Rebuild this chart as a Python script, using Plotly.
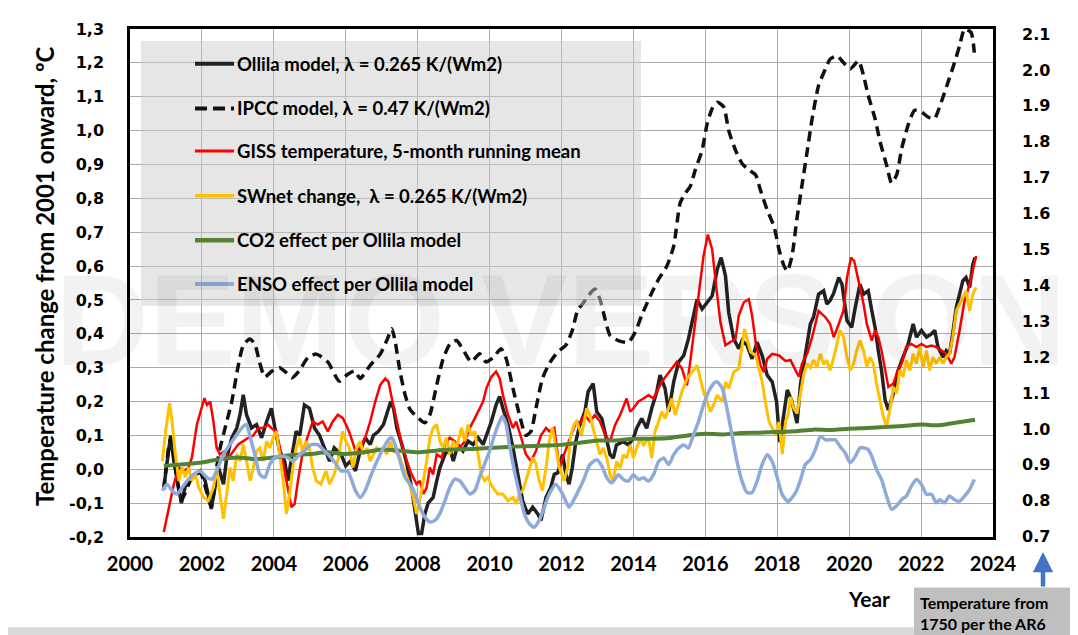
import plotly.graph_objects as go

# ---------------- data ----------------
ollila_x = [2000.94, 2001.03, 2001.13, 2001.22, 2001.36, 2001.43, 2001.54, 2001.68, 2001.82, 2001.95,
            2002.09, 2002.26, 2002.36, 2002.46, 2002.6, 2002.69, 2002.83, 2002.97, 2003.06, 2003.15,
            2003.24, 2003.38, 2003.52, 2003.66, 2003.8, 2003.93, 2004.03, 2004.16, 2004.3, 2004.39,
            2004.48, 2004.62, 2004.72, 2004.85, 2004.99, 2005.13, 2005.27, 2005.4, 2005.55, 2005.68,
            2005.87, 2006.0, 2006.13, 2006.27, 2006.4, 2006.54, 2006.68, 2006.77, 2006.91, 2007.05,
            2007.19, 2007.25, 2007.33, 2007.42, 2007.56, 2007.7, 2007.83, 2007.93, 2008.02, 2008.11,
            2008.2, 2008.29, 2008.43, 2008.53, 2008.62, 2008.76, 2008.89, 2008.99, 2009.12, 2009.26,
            2009.4, 2009.54, 2009.68, 2009.82, 2009.91, 2010.05, 2010.18, 2010.28, 2010.37, 2010.51,
            2010.65, 2010.78, 2010.92, 2011.06, 2011.2, 2011.34, 2011.43, 2011.57, 2011.7, 2011.8,
            2011.9, 2012.03, 2012.12, 2012.21, 2012.3, 2012.4, 2012.51, 2012.65, 2012.74, 2012.88,
            2012.98, 2013.12, 2013.21, 2013.35, 2013.44, 2013.53, 2013.72, 2013.86, 2014.0, 2014.09,
            2014.23, 2014.37, 2014.51, 2014.65, 2014.74, 2014.88, 2014.98, 2015.12, 2015.26, 2015.4,
            2015.53, 2015.63, 2015.77, 2015.91, 2016.05, 2016.19, 2016.33, 2016.44, 2016.56, 2016.65,
            2016.79, 2016.93, 2017.02, 2017.16, 2017.3, 2017.44, 2017.58, 2017.72, 2017.86, 2017.98,
            2018.07, 2018.16, 2018.28, 2018.41, 2018.55, 2018.65, 2018.78, 2018.92, 2019.01, 2019.15,
            2019.29, 2019.38, 2019.47, 2019.57, 2019.71, 2019.8, 2019.94, 2020.07, 2020.17, 2020.3,
            2020.4, 2020.53, 2020.63, 2020.72, 2020.81, 2020.9, 2021.0, 2021.09, 2021.23, 2021.36,
            2021.5, 2021.64, 2021.78, 2021.87, 2022.01, 2022.15, 2022.29, 2022.38, 2022.47, 2022.61,
            2022.7, 2022.79, 2022.88, 2022.98, 2023.07, 2023.16, 2023.25, 2023.35, 2023.44, 2023.5]
ollila_y = [-0.054, 0.024, 0.10, 0.024, -0.054, -0.10, -0.05, -0.034, -0.015, -0.005,
            -0.034, -0.117, -0.06, 0.005, -0.044, 0.034, 0.093, 0.122, 0.161, 0.22,
            0.161, 0.122, 0.132, 0.093, 0.141, 0.18, 0.122, 0.054, 0.024, -0.034,
            0.024, 0.112, 0.10, 0.19, 0.18, 0.122, 0.10, 0.063, 0.024, 0.063,
            0.044, 0.01, 0.024, -0.005, 0.054, 0.093, 0.073, 0.10, 0.112, 0.132,
            0.18, 0.20, 0.18, 0.122, 0.073, 0.015, -0.054, -0.132, -0.19, -0.19,
            -0.132, -0.10, -0.083, -0.034, 0.005, 0.044, 0.063, 0.024, 0.073, 0.054,
            0.083, 0.073, 0.093, 0.073, 0.10, 0.141, 0.19, 0.215, 0.18, 0.132,
            0.063, -0.015, -0.093, -0.132, -0.112, -0.132, -0.151, -0.083, -0.054, -0.015,
            -0.01, 0.044, -0.015, -0.044, 0.005, 0.083, 0.131, 0.17, 0.229, 0.253,
            0.17, 0.15, 0.111, 0.043, 0.033, 0.072, 0.082, 0.072, 0.092, 0.121,
            0.15, 0.121, 0.18, 0.229, 0.278, 0.239, 0.17, 0.258, 0.317, 0.336,
            0.385, 0.434, 0.502, 0.473, 0.493, 0.512, 0.59, 0.625, 0.571, 0.463,
            0.385, 0.356, 0.38, 0.366, 0.326, 0.375, 0.336, 0.278, 0.258, 0.20,
            0.08, 0.14, 0.234, 0.20, 0.136, 0.253, 0.341, 0.429, 0.45, 0.517,
            0.527, 0.488, 0.498, 0.52, 0.566, 0.546, 0.439, 0.419, 0.478, 0.546,
            0.517, 0.527, 0.468, 0.419, 0.351, 0.292, 0.204, 0.175, 0.224, 0.292,
            0.331, 0.37, 0.429, 0.39, 0.41, 0.39, 0.40, 0.41, 0.361, 0.331,
            0.35, 0.341, 0.40, 0.478, 0.517, 0.556, 0.566, 0.537, 0.605, 0.625]

ipcc_x = [2000.94, 2001.13, 2001.43, 2001.7, 2001.95, 2002.26, 2002.4, 2002.5, 2002.64, 2002.83,
          2003.0, 2003.15, 2003.33, 2003.47, 2003.6, 2003.75, 2003.95, 2004.16, 2004.35, 2004.5,
          2004.7, 2004.95, 2005.18, 2005.5, 2005.82, 2006.05, 2006.25, 2006.4, 2006.68, 2006.96,
          2007.14, 2007.28, 2007.37, 2007.51, 2007.65, 2007.79, 2008.02, 2008.2, 2008.34, 2008.53,
          2008.71, 2008.9, 2009.08, 2009.3, 2009.49, 2009.72, 2009.9, 2010.1, 2010.32, 2010.46,
          2010.65, 2010.83, 2011.01, 2011.15, 2011.29, 2011.47, 2011.66, 2011.89, 2012.12, 2012.3,
          2012.45, 2012.6, 2012.74, 2012.93, 2013.07, 2013.21, 2013.35, 2013.58, 2013.86, 2014.05,
          2014.23, 2014.47, 2014.7, 2014.93, 2015.12, 2015.3, 2015.44, 2015.58, 2015.72, 2015.91,
          2016.05, 2016.19, 2016.33, 2016.51, 2016.65, 2016.84, 2017.02, 2017.21, 2017.4, 2017.53,
          2017.72, 2017.91, 2018.05, 2018.19, 2018.28, 2018.41, 2018.55, 2018.69, 2018.83, 2018.97,
          2019.15, 2019.34, 2019.47, 2019.66, 2019.84, 2020.03, 2020.26, 2020.4, 2020.53, 2020.72,
          2020.86, 2021.04, 2021.18, 2021.32, 2021.46, 2021.64, 2021.82, 2022.01, 2022.19, 2022.37,
          2022.56, 2022.75, 2022.93, 2023.07, 2023.21, 2023.39, 2023.48]
ipcc_y = [-0.06, 0.09, -0.09, -0.03, -0.01, -0.11, 0.0, 0.06, 0.12, 0.20,
          0.30, 0.366, 0.385, 0.37, 0.317, 0.273, 0.29, 0.30, 0.285, 0.27,
          0.29, 0.33, 0.34, 0.317, 0.26, 0.28, 0.29, 0.268, 0.307, 0.34,
          0.38, 0.415, 0.38, 0.288, 0.22, 0.176, 0.151, 0.137, 0.161, 0.249,
          0.327, 0.37, 0.38, 0.346, 0.317, 0.341, 0.317, 0.33, 0.356, 0.327,
          0.239, 0.161, 0.10, 0.112, 0.18, 0.268, 0.312, 0.346, 0.366, 0.41,
          0.47, 0.49, 0.512, 0.532, 0.502, 0.444, 0.395, 0.38, 0.375, 0.405,
          0.454, 0.512, 0.561, 0.60, 0.659, 0.786, 0.815, 0.835, 0.884, 0.942,
          1.02, 1.065, 1.084, 1.07, 1.0, 0.942, 0.903, 0.884, 0.869, 0.825,
          0.766, 0.717, 0.649, 0.60, 0.585, 0.63, 0.742, 0.84, 0.937, 1.035,
          1.133, 1.182, 1.211, 1.221, 1.201, 1.182, 1.206, 1.162, 1.104, 1.035,
          0.967, 0.898, 0.845, 0.869, 0.947, 1.016, 1.06, 1.055, 1.04, 1.035,
          1.084, 1.143, 1.201, 1.25, 1.30, 1.29, 1.23]

giss_x = [2000.94, 2001.08, 2001.22, 2001.36, 2001.5, 2001.63, 2001.72, 2001.86, 2002.0, 2002.07,
          2002.14, 2002.23, 2002.32, 2002.41, 2002.5, 2002.64, 2002.74, 2002.87, 2003.01, 2003.15,
          2003.29, 2003.43, 2003.57, 2003.7, 2003.84, 2003.93, 2004.07, 2004.21, 2004.35, 2004.49,
          2004.58, 2004.67, 2004.81, 2004.95, 2005.08, 2005.22, 2005.36, 2005.5, 2005.64, 2005.78,
          2005.92, 2006.05, 2006.13, 2006.27, 2006.4, 2006.54, 2006.68, 2006.82, 2006.96, 2007.1,
          2007.19, 2007.28, 2007.42, 2007.56, 2007.7, 2007.83, 2007.97, 2008.06, 2008.16, 2008.25,
          2008.34, 2008.43, 2008.53, 2008.67, 2008.76, 2008.89, 2009.03, 2009.17, 2009.31, 2009.45,
          2009.59, 2009.72, 2009.82, 2009.91, 2010.05, 2010.18, 2010.28, 2010.37, 2010.51, 2010.65,
          2010.74, 2010.88, 2011.01, 2011.15, 2011.29, 2011.43, 2011.57, 2011.66, 2011.8, 2011.94,
          2012.07, 2012.21, 2012.3, 2012.42, 2012.51, 2012.65, 2012.79, 2012.93, 2013.07, 2013.21,
          2013.35, 2013.49, 2013.63, 2013.81, 2013.91, 2014.0, 2014.14, 2014.28, 2014.42, 2014.56,
          2014.65, 2014.79, 2014.93, 2015.07, 2015.21, 2015.35, 2015.49, 2015.58, 2015.67, 2015.81,
          2015.95, 2016.07, 2016.19, 2016.31, 2016.42, 2016.56, 2016.7, 2016.84, 2016.93, 2017.07,
          2017.21, 2017.3, 2017.4, 2017.53, 2017.63, 2017.72, 2017.86, 2018.05, 2018.23, 2018.37,
          2018.51, 2018.6, 2018.69, 2018.83, 2018.97, 2019.06, 2019.15, 2019.24, 2019.34, 2019.47,
          2019.57, 2019.71, 2019.84, 2019.94, 2020.05, 2020.14, 2020.26, 2020.4, 2020.49, 2020.63,
          2020.72, 2020.81, 2020.9, 2021.0, 2021.09, 2021.23, 2021.32, 2021.46, 2021.59, 2021.73,
          2021.87, 2022.01, 2022.15, 2022.29, 2022.42, 2022.56, 2022.7, 2022.84, 2022.93, 2023.07,
          2023.21, 2023.35, 2023.44, 2023.53]
giss_y = [-0.185, -0.112, -0.044, 0.005, -0.005, 0.005, 0.034, 0.132, 0.19, 0.21,
          0.19, 0.20, 0.141, 0.063, 0.044, 0.054, 0.034, 0.054, 0.073, 0.083,
          0.093, 0.10, 0.122, 0.122, 0.132, 0.122, 0.112, 0.044, -0.034, -0.112,
          -0.102, -0.034, 0.054, 0.10, 0.141, 0.132, 0.141, 0.112, 0.141, 0.161,
          0.151, 0.122, 0.10, 0.054, 0.063, 0.093, 0.141, 0.20, 0.249, 0.268,
          0.258, 0.21, 0.141, 0.073, 0.024, -0.015, -0.044, -0.034, -0.073, -0.054,
          0.005, -0.015, 0.044, 0.034, 0.073, 0.093, 0.083, 0.063, 0.083, 0.122,
          0.151, 0.18, 0.20, 0.239, 0.273, 0.288, 0.268, 0.22, 0.161, 0.122,
          0.141, 0.093, 0.044, 0.024, 0.054, 0.10, 0.122, 0.112, 0.122, 0.005,
          0.044, 0.083, 0.111, 0.141, 0.136, 0.16, 0.141, 0.16, 0.141, 0.102,
          0.082, 0.131, 0.16, 0.209, 0.17, 0.18, 0.20, 0.209, 0.219, 0.209,
          0.229, 0.258, 0.278, 0.297, 0.317, 0.297, 0.248, 0.317, 0.395, 0.512,
          0.63, 0.693, 0.649, 0.532, 0.434, 0.366, 0.375, 0.385, 0.454, 0.493,
          0.502, 0.454, 0.375, 0.307, 0.287, 0.326, 0.341, 0.336, 0.32, 0.322,
          0.292, 0.273, 0.312, 0.341, 0.39, 0.429, 0.468, 0.459, 0.449, 0.429,
          0.39, 0.429, 0.468, 0.566, 0.625, 0.615, 0.556, 0.488, 0.429, 0.38,
          0.41, 0.39, 0.351, 0.292, 0.243, 0.253, 0.283, 0.312, 0.361, 0.37,
          0.361, 0.37, 0.361, 0.365, 0.361, 0.351, 0.341, 0.312, 0.331, 0.41,
          0.498, 0.546, 0.586, 0.63]

swnet_x = [2000.9, 2000.99, 2001.1, 2001.17, 2001.26, 2001.36, 2001.45, 2001.54, 2001.63, 2001.72,
           2001.82, 2001.91, 2002.05, 2002.18, 2002.32, 2002.41, 2002.5, 2002.6, 2002.69, 2002.78,
           2002.87, 2002.97, 2003.06, 2003.15, 2003.24, 2003.34, 2003.43, 2003.52, 2003.61, 2003.7,
           2003.8, 2003.89, 2003.98, 2004.07, 2004.16, 2004.26, 2004.35, 2004.44, 2004.53, 2004.62,
           2004.72, 2004.81, 2004.9, 2004.99, 2005.08, 2005.18, 2005.31, 2005.45, 2005.55, 2005.68,
           2005.82, 2005.91, 2006.0, 2006.1, 2006.2, 2006.3, 2006.4, 2006.49, 2006.59, 2006.68,
           2006.77, 2006.86, 2006.96, 2007.05, 2007.14, 2007.23, 2007.33, 2007.47, 2007.6, 2007.74,
           2007.88, 2007.97, 2008.06, 2008.16, 2008.25, 2008.34, 2008.43, 2008.53, 2008.62, 2008.71,
           2008.8, 2008.89, 2008.99, 2009.08, 2009.22, 2009.31, 2009.4, 2009.49, 2009.59, 2009.68,
           2009.77, 2009.86, 2009.95, 2010.09, 2010.23, 2010.37, 2010.51, 2010.65, 2010.74, 2010.83,
           2010.92, 2011.01, 2011.11, 2011.2, 2011.29, 2011.38, 2011.47, 2011.57, 2011.66, 2011.75,
           2011.84, 2011.94, 2012.07, 2012.17, 2012.26, 2012.35, 2012.42, 2012.56, 2012.7, 2012.79,
           2012.88, 2012.98, 2013.07, 2013.16, 2013.26, 2013.35, 2013.44, 2013.53, 2013.63, 2013.72,
           2013.81, 2013.91, 2014.0, 2014.09, 2014.19, 2014.28, 2014.42, 2014.51, 2014.6, 2014.7,
           2014.79, 2014.88, 2014.98, 2015.07, 2015.16, 2015.26, 2015.35, 2015.49, 2015.63, 2015.77,
           2015.86, 2015.95, 2016.05, 2016.14, 2016.23, 2016.33, 2016.47, 2016.56, 2016.65, 2016.79,
           2016.93, 2017.02, 2017.09, 2017.16, 2017.26, 2017.4, 2017.49, 2017.58, 2017.67, 2017.77,
           2017.86, 2017.95, 2018.05, 2018.14, 2018.23, 2018.3, 2018.37, 2018.46, 2018.55, 2018.65,
           2018.74, 2018.83, 2018.92, 2019.01, 2019.1, 2019.2, 2019.29, 2019.38, 2019.47, 2019.57,
           2019.66, 2019.75, 2019.84, 2019.94, 2020.03, 2020.12, 2020.21, 2020.3, 2020.4, 2020.49,
           2020.58, 2020.67, 2020.76, 2020.86, 2020.95, 2021.04, 2021.13, 2021.23, 2021.32, 2021.41,
           2021.5, 2021.59, 2021.69, 2021.78, 2021.87, 2021.96, 2022.06, 2022.15, 2022.24, 2022.33,
           2022.42, 2022.52, 2022.61, 2022.7, 2022.79, 2022.88, 2022.98, 2023.07, 2023.16, 2023.25,
           2023.35, 2023.44, 2023.53]
swnet_y = [0.024, 0.112, 0.195, 0.141, 0.044, -0.034, 0.005, -0.024, 0.005, -0.034,
           -0.015, -0.054, -0.083, -0.093, -0.054, 0.005, -0.073, -0.146, -0.073, 0.005,
           -0.034, 0.044, 0.024, 0.073, 0.024, -0.034, 0.005, 0.054, 0.063, 0.024,
           0.083, 0.063, 0.093, 0.112, 0.044, -0.034, -0.132, -0.073, 0.005, 0.063,
           0.093, 0.044, 0.083, 0.063, 0.005, -0.034, -0.044, -0.005, -0.044, -0.015,
           0.044, 0.112, 0.083, 0.063, 0.005, 0.063, 0.083, 0.044, 0.063, 0.024,
           0.044, 0.063, 0.054, 0.063, 0.044, 0.083, 0.054, 0.044, 0.005, -0.034,
           -0.083, -0.132, -0.093, -0.034, 0.024, 0.093, 0.122, 0.132, 0.083, 0.063,
           0.093, 0.044, 0.083, 0.063, 0.122, 0.083, 0.132, 0.10, 0.112, 0.044,
           -0.015, -0.034, -0.024, -0.054, -0.073, -0.073, -0.093, -0.083, -0.102, -0.073,
           -0.063, -0.034, 0.005, 0.034, 0.015, -0.034, -0.063, 0.005, 0.083, 0.122,
           0.063, 0.005, -0.034, 0.005, 0.102, 0.132, 0.141, 0.102, 0.18, 0.16,
           0.121, 0.082, 0.043, 0.063, 0.033, -0.016, -0.035, 0.023, 0.004, 0.043,
           0.033, 0.072, 0.033, 0.063, 0.092, 0.072, 0.092, 0.033, 0.111, 0.141,
           0.17, 0.15, 0.18, 0.209, 0.16, 0.20, 0.229, 0.268, 0.287, 0.307,
           0.268, 0.229, 0.199, 0.17, 0.19, 0.219, 0.199, 0.258, 0.239, 0.287,
           0.297, 0.366, 0.414, 0.385, 0.346, 0.336, 0.297, 0.258, 0.199, 0.141,
           0.122, 0.102, 0.14, 0.045, 0.14, 0.16, 0.214, 0.18, 0.165, 0.224,
           0.282, 0.312, 0.30, 0.322, 0.30, 0.341, 0.31, 0.322, 0.292, 0.33,
           0.37, 0.41, 0.39, 0.331, 0.292, 0.31, 0.351, 0.38, 0.351, 0.302,
           0.331, 0.312, 0.253, 0.204, 0.155, 0.126, 0.175, 0.243, 0.224, 0.292,
           0.273, 0.322, 0.292, 0.341, 0.312, 0.361, 0.302, 0.351, 0.292, 0.331,
           0.312, 0.331, 0.312, 0.331, 0.341, 0.39, 0.468, 0.488, 0.507, 0.527,
           0.468, 0.517, 0.537]

co2_x = [2000.94, 2001.5, 2002.0, 2002.5, 2003.0, 2003.5, 2004.0, 2004.5, 2005.0, 2005.5,
         2006.0, 2006.5, 2007.0, 2007.5, 2008.0, 2008.5, 2009.0, 2009.5, 2010.0, 2010.5,
         2011.0, 2011.5, 2012.0, 2012.5, 2013.0, 2013.5, 2014.0, 2014.5, 2015.0, 2015.5,
         2016.0, 2016.5, 2017.0, 2017.5, 2018.0, 2018.5, 2019.0, 2019.5, 2020.0, 2020.5,
         2021.0, 2021.5, 2022.0, 2022.5, 2023.0, 2023.5]
co2_y = [0.01, 0.015, 0.02, 0.03, 0.035, 0.03, 0.035, 0.042, 0.045, 0.05,
         0.045, 0.05, 0.058, 0.055, 0.05, 0.055, 0.058, 0.06, 0.063, 0.066,
         0.068, 0.07, 0.072, 0.078, 0.085, 0.085, 0.09, 0.09, 0.092, 0.10,
         0.105, 0.103, 0.107, 0.108, 0.11, 0.112, 0.117, 0.116, 0.12, 0.122,
         0.125, 0.128, 0.132, 0.13, 0.138, 0.146]

enso_x = [2000.9, 2001.03, 2001.17, 2001.31, 2001.45, 2001.59, 2001.77, 2001.95, 2002.14, 2002.28,
          2002.41, 2002.6, 2002.78, 2002.97, 2003.15, 2003.24, 2003.33, 2003.47, 2003.61, 2003.75,
          2003.89, 2004.03, 2004.21, 2004.39, 2004.53, 2004.67, 2004.85, 2005.04, 2005.22, 2005.41,
          2005.59, 2005.73, 2005.87, 2006.05, 2006.27, 2006.4, 2006.54, 2006.68, 2006.87, 2007.05,
          2007.19, 2007.28, 2007.37, 2007.51, 2007.65, 2007.79, 2007.93, 2008.06, 2008.2, 2008.34,
          2008.48, 2008.62, 2008.76, 2008.89, 2009.03, 2009.17, 2009.31, 2009.45, 2009.59, 2009.72,
          2009.86, 2010.0, 2010.14, 2010.28, 2010.35, 2010.46, 2010.55, 2010.69, 2010.83, 2010.97,
          2011.11, 2011.24, 2011.38, 2011.52, 2011.66, 2011.84, 2012.03, 2012.21, 2012.42, 2012.6,
          2012.79, 2012.98, 2013.12, 2013.26, 2013.4, 2013.58, 2013.72, 2013.86, 2014.0, 2014.14,
          2014.28, 2014.42, 2014.56, 2014.7, 2014.84, 2014.98, 2015.12, 2015.26, 2015.4, 2015.53,
          2015.67, 2015.81, 2015.95, 2016.09, 2016.23, 2016.33, 2016.47, 2016.6, 2016.74, 2016.88,
          2017.02, 2017.16, 2017.3, 2017.44, 2017.58, 2017.72, 2017.86, 2018.0, 2018.14, 2018.3,
          2018.51, 2018.65, 2018.78, 2018.92, 2019.06, 2019.2, 2019.34, 2019.47, 2019.61, 2019.75,
          2019.89, 2020.03, 2020.17, 2020.3, 2020.42, 2020.53, 2020.63, 2020.76, 2020.9, 2021.04,
          2021.18, 2021.32, 2021.46, 2021.59, 2021.73, 2021.87, 2022.01, 2022.15, 2022.29, 2022.42,
          2022.52, 2022.65, 2022.79, 2022.93, 2023.07, 2023.21, 2023.35, 2023.48]
enso_y = [-0.063, -0.044, -0.063, -0.073, -0.054, -0.034, -0.015, -0.005, -0.024, -0.029,
          -0.005, 0.044, 0.073, 0.102, 0.127, 0.132, 0.10, 0.044, -0.015, -0.024,
          0.015, 0.034, 0.039, 0.034, 0.024, 0.039, 0.054, 0.073, 0.073, 0.054,
          0.034, 0.015, -0.005, -0.005, -0.063, -0.083, -0.063, -0.024, 0.024, 0.063,
          0.088, 0.093, 0.073, 0.024, -0.024, -0.044, -0.073, -0.112, -0.141, -0.156,
          -0.151, -0.13, -0.093, -0.054, -0.029, -0.034, -0.054, -0.073, -0.063, -0.024,
          0.015, 0.054, 0.102, 0.141, 0.156, 0.132, 0.073, -0.005, -0.073, -0.132,
          -0.161, -0.171, -0.151, -0.112, -0.073, -0.044, -0.073, -0.112, -0.074, -0.035,
          0.014, 0.028, 0.01, -0.025, -0.04, -0.016, -0.03, -0.035, -0.016, -0.03,
          -0.025, -0.035, -0.016, 0.023, 0.033, 0.014, 0.043, 0.063, 0.072, 0.063,
          0.102, 0.141, 0.19, 0.229, 0.253, 0.258, 0.239, 0.18, 0.102, 0.023,
          -0.035, -0.069, -0.069, -0.035, 0.014, 0.043, 0.023, -0.025, -0.075, -0.095,
          -0.069, -0.03, 0.014, 0.028, 0.058, 0.097, 0.087, 0.087, 0.087, 0.067,
          0.048, 0.019, 0.038, 0.063, 0.063, 0.058, 0.038, -0.001, -0.03, -0.079,
          -0.118, -0.108, -0.089, -0.079, -0.05, -0.03, -0.045, -0.074, -0.074, -0.099,
          -0.09, -0.099, -0.079, -0.09, -0.094, -0.079, -0.06, -0.03]

legend_labels = ["Ollila model, λ = 0.265 K/(Wm2)",
                 "IPCC model, λ = 0.47 K/(Wm2)",
                 "GISS temperature, 5-month running mean",
                 "SWnet change,  λ = 0.265 K/(Wm2)",
                 "CO2 effect per Ollila model",
                 "ENSO effect per Ollila model"]

x_ticks = [2000, 2002, 2004, 2006, 2008, 2010, 2012, 2014, 2016, 2018, 2020, 2022, 2024]
left_ticks = [-0.2, -0.1, 0.0, 0.1, 0.2, 0.3, 0.4, 0.5, 0.6, 0.7, 0.8, 0.9, 1.0, 1.1, 1.2, 1.3]
left_labels = ["-0,2", "-0,1", "0,0", "0,1", "0,2", "0,3", "0,4", "0,5", "0,6", "0,7",
               "0,8", "0,9", "1,0", "1,1", "1,2", "1,3"]
right_ticks = [0.7, 0.8, 0.9, 1.0, 1.1, 1.2, 1.3, 1.4, 1.5, 1.6, 1.7, 1.8, 1.9, 2.0, 2.1]
right_labels = ["0.7", "0.8", "0.9", "1.0", "1.1", "1.2", "1.3", "1.4", "1.5", "1.6",
                "1.7", "1.8", "1.9", "2.0", "2.1"]

# ---------------- geometry ----------------
# The page body has an 8px margin, so the figure is drawn 8px smaller and all
# screen positions below are given in screen pixels and converted.
OFF = 8
W, H = 1078 - OFF, 635 - OFF
L, R, T, B = 130, 993, 25, 537          # plot area in screen pixels


def fx(p):
    return (p - L) / (R - L)


def fy(p):
    return (B - p) / (B - T)


styles = [
    dict(color="#222222", width=3.5),
    dict(color="#111111", width=3.5, dash="10px,6px"),
    dict(color="#ff0000", width=2.5),
    dict(color="#ffc000", width=3),
    dict(color="#548235", width=4),
    dict(color="#8eaadb", width=3.5),
]
shapes_ = ["linear", "spline", "linear", "linear", "spline", "spline"]
xs = [ollila_x, ipcc_x, giss_x, swnet_x, co2_x, enso_x]
ys = [ollila_y, ipcc_y, giss_y, swnet_y, co2_y, enso_y]

fig = go.Figure()
for lab, xv, yv, st, sh in zip(legend_labels, xs, ys, styles, shapes_):
    fig.add_trace(go.Scatter(x=xv, y=yv, mode="lines", name=lab,
                             line=dict(shape=sh, smoothing=0.6, **st),
                             showlegend=False, hoverinfo="skip"))

# invisible trace to carry the right-hand (AR6) axis
fig.add_trace(go.Scatter(x=[x_ticks[0]] * len(right_ticks), y=right_ticks, yaxis="y2",
                         mode="markers", marker=dict(opacity=0), showlegend=False,
                         hoverinfo="skip"))

grid = "#a9a9a9"
fig.update_layout(
    width=W, height=H,
    margin=dict(l=L - OFF, r=1078 - R, t=T - OFF, b=635 - B, pad=0),
    paper_bgcolor="white", plot_bgcolor="white",
    xaxis=dict(range=[2000, 2024], tickvals=x_ticks, showgrid=True, gridcolor=grid,
               gridwidth=1, zeroline=False, showline=True, mirror=True, linecolor="black",
               linewidth=2.5, ticks="", ticklabelstandoff=7,
               tickfont=dict(family="Lato", size=20, color="black", weight="bold")),
    yaxis=dict(range=[-0.2, 1.3], tickvals=left_ticks, ticktext=left_labels, showgrid=True,
               gridcolor=grid, gridwidth=1, zeroline=False, showline=True, mirror=True,
               linecolor="black", linewidth=2.5, ticks="", ticklabelstandoff=20,
               tickfont=dict(family="DejaVu Sans", size=16, color="black", weight="bold")),
    yaxis2=dict(range=[0.699, 2.114], overlaying="y", side="right", tickvals=right_ticks,
                ticktext=right_labels, showgrid=False, zeroline=False, showline=False,
                ticks="", ticklabelstandoff=28,
                tickfont=dict(family="DejaVu Sans", size=16, color="black", weight="bold")),
    showlegend=False,
)

shapes = []
# light grey strip along the bottom edge of the picture
shapes.append(dict(type="rect", xref="paper", yref="paper", x0=fx(OFF), x1=fx(1078),
                   y0=fy(636), y1=fy(628), line=dict(width=0), fillcolor="#d9d9d9",
                   layer="below"))
# legend panel (semi-transparent, over the lines)
shapes.append(dict(type="rect", xref="paper", yref="paper", x0=fx(141), x1=fx(641),
                   y0=fy(304), y1=fy(37), line=dict(width=0),
                   fillcolor="rgba(205,205,205,0.5)", layer="above"))
row_y = [60, 105, 148, 193, 238, 282]
for ry, st in zip(row_y, styles):
    ln = dict(color=st["color"], width=st["width"] + 0.5)
    if "dash" in st:
        ln["dash"] = "12px,6px"
    shapes.append(dict(type="line", xref="paper", yref="paper", x0=fx(195), x1=fx(234),
                       y0=fy(ry), y1=fy(ry), line=ln, layer="above"))
# bottom-right note box
shapes.append(dict(type="rect", xref="paper", yref="paper", x0=fx(914), x1=fx(1078),
                   y0=fy(636), y1=fy(588), line=dict(width=0), fillcolor="#bfbfbf",
                   layer="above"))
fig.update_layout(shapes=shapes)

ann = []
for ry, lab in zip(row_y, legend_labels):
    ann.append(dict(x=fx(235), y=fy(ry), xref="paper", yref="paper", text=lab,
                    showarrow=False, xanchor="left", yanchor="middle",
                    font=dict(family="Lato", size=18.5, color="black", weight="bold")))
ann.append(dict(x=fx(560), y=fy(318), xref="paper", yref="paper", text="DEMO VERSION",
                showarrow=False, xanchor="center", yanchor="middle",
                font=dict(family="Liberation Sans", size=130, color="rgba(0,0,0,0.05)",
                          weight="bold")))
ann.append(dict(x=fx(44), y=fy(274), xref="paper", yref="paper",
                text="Temperature change from 2001 onward, ºC", textangle=-90,
                showarrow=False, xanchor="center", yanchor="middle",
                font=dict(family="Lato", size=24, color="black", weight="bold")))
ann.append(dict(x=fx(869), y=fy(599), xref="paper", yref="paper", text="Year",
                showarrow=False, xanchor="center", yanchor="middle",
                font=dict(family="Lato", size=21, color="black", weight="bold")))
ann.append(dict(x=fx(918), y=fy(614), xref="paper", yref="paper",
                text="Temperature from<br>1750 per the AR6", align="left",
                showarrow=False, xanchor="left", yanchor="middle",
                font=dict(family="Lato", size=16, color="black", weight="bold")))
ann.append(dict(x=fx(1043), y=fy(552), xref="paper", yref="paper", text="",
                showarrow=True, ax=0, ay=36, arrowhead=2, arrowsize=0.9, arrowwidth=4.5,
                arrowcolor="#4472c4"))
fig.update_layout(annotations=ann)

fig.write_html("out.html")
